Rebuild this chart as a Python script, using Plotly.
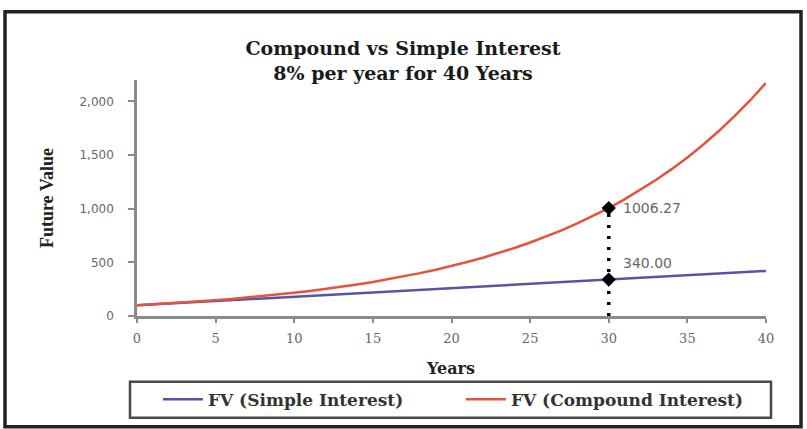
import plotly.graph_objects as go

years = list(range(0, 41))
fv_simple = [100, 108, 116, 124, 132, 140, 148, 156, 164, 172, 180,
             188, 196, 204, 212, 220, 228, 236, 244, 252, 260,
             268, 276, 284, 292, 300, 308, 316, 324, 332, 340,
             348, 356, 364, 372, 380, 388, 396, 404, 412, 420]
fv_compound = [100.00, 108.00, 116.64, 125.97, 136.05, 146.93, 158.69, 171.38, 185.09, 199.90, 215.89,
               233.16, 251.82, 271.96, 293.72, 317.22, 342.59, 370.00, 399.60, 431.57, 466.10,
               503.38, 543.65, 587.14, 634.11, 684.85, 739.64, 798.81, 862.71, 931.73, 1006.27,
               1086.77, 1173.71, 1267.61, 1369.02, 1478.53, 1596.81, 1724.56, 1862.52, 2011.52, 2172.45]
mark_year = 30
mark_values = [340.00, 1006.27]
mark_labels = ["340.00", "1006.27"]
x_ticks = [0, 5, 10, 15, 20, 25, 30, 35, 40]
y_ticks = [0, 500, 1000, 1500, 2000]
y_tick_labels = ["0", "500", "1,000", "1,500", "2,000"]

BLUE = "#5a52a6"
RED = "#e5523d"
serif_wide = "DejaVu Serif, serif"
serif = "Liberation Serif, Times New Roman, serif"
sans = "DejaVu Sans, Verdana, sans-serif"

fig = go.Figure()
fig.add_trace(go.Scatter(x=years, y=fv_simple, mode="lines", name="FV (Simple Interest)",
                         line=dict(color=BLUE, width=2.5)))
fig.add_trace(go.Scatter(x=years, y=fv_compound, mode="lines", name="FV (Compound Interest)",
                         line=dict(color=RED, width=2.5)))
# dotted marker line at year 30
fig.add_trace(go.Scatter(x=[mark_year, mark_year], y=[0, mark_values[1]], mode="lines",
                         line=dict(color="black", width=3.5, dash="3px,8px"), showlegend=False,
                         hoverinfo="skip"))
fig.add_trace(go.Scatter(x=[mark_year, mark_year], y=mark_values, mode="markers",
                         marker=dict(color="black", size=11, symbol="diamond"), showlegend=False))

for v, lab in zip(mark_values, mark_labels):
    fig.add_annotation(x=mark_year, y=v, text=lab, showarrow=False, xanchor="left",
                       yanchor="middle", xshift=12, yshift=17 if v < 500 else 0,
                       font=dict(family=sans, size=14, color="#666666"))

L, R, T, B = 137, 41, 79.5, 113
W, H = 807, 429
pw, ph = W - L - R, H - T - B

def fx(px):
    return (px - L) / pw

def fy(py):
    return (H - B - py) / ph

# x axis title as annotation for exact placement
fig.add_annotation(xref="paper", yref="paper", x=fx(450), y=fy(369), text="Years",
                   showarrow=False, xanchor="center", yanchor="middle",
                   font=dict(family=serif_wide, size=16, color="#222222", weight="bold"))

# outer border
fig.add_shape(type="rect", xref="paper", yref="paper",
              x0=fx(5), x1=fx(801), y0=fy(427), y1=fy(11),
              line=dict(color="#222222", width=3.5), layer="below")
# legend box
fig.add_shape(type="rect", xref="paper", yref="paper",
              x0=fx(130), x1=fx(771), y0=fy(418), y1=fy(382),
              line=dict(color="#4a4a4a", width=2.5), layer="below")

fig.update_layout(
    width=W, height=H,
    margin=dict(l=L, r=R, t=T, b=B, autoexpand=False),
    paper_bgcolor="white", plot_bgcolor="white",
    title=dict(text="Compound vs Simple Interest<br>8% per year for 40 Years",
               x=403 / W, xref="container", xanchor="center", y=1 - 55 / H, yanchor="middle",
               font=dict(family=serif_wide, size=19, color="#1a1a1a", weight="bold")),
    showlegend=True,
    legend=dict(orientation="h", x=-0.0001, xanchor="left", xref="paper",
                y=fy(400), yanchor="middle", yref="paper", indentation=21,
                font=dict(family=serif_wide, size=17, color="#333333", weight="bold"),
                bgcolor="rgba(0,0,0,0)", entrywidth=227, itemwidth=40),
    xaxis=dict(range=[0, 40], tickvals=x_ticks, showgrid=False, zeroline=False,
               showline=True, linecolor="#8a8a8a", linewidth=2.5,
               ticks="outside", ticklen=4, tickcolor="#8a8a8a", tickwidth=2,
               ticklabelstandoff=5,
               tickfont=dict(family=serif_wide, size=13, color="#666666")),
    yaxis=dict(range=[0, 2200], tickvals=y_ticks, ticktext=y_tick_labels, showgrid=False,
               zeroline=False, showline=True, linecolor="#8a8a8a", linewidth=2.5,
               ticks="outside", ticklen=6, tickcolor="#8a8a8a", tickwidth=2,
               ticklabelstandoff=12,
               tickfont=dict(family=sans, size=12, color="#666666"),
               title=dict(text="Future Value", standoff=22,
                          font=dict(family=serif, size=18, color="#222222", weight="bold"))),
)

fig.write_html("out.html", config={"displayModeBar": False},
               post_script="document.body.style.margin='0';")
